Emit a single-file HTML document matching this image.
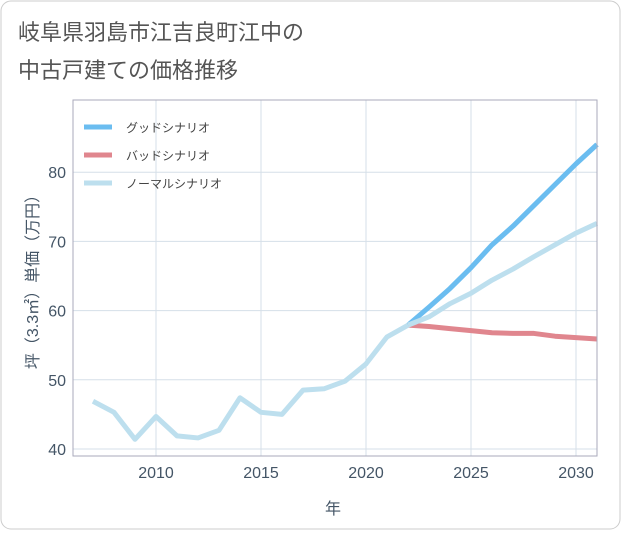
<!DOCTYPE html>
<html><head><meta charset="utf-8"><style>
body{margin:0;background:#fff;font-family:"Liberation Sans","Noto Sans CJK JP",sans-serif;}
</style></head><body>
<svg width="621" height="530" xmlns="http://www.w3.org/2000/svg" font-family="Liberation Sans, Noto Sans CJK JP, sans-serif">
<rect x="1" y="1" width="619" height="528" rx="10" fill="#fff" stroke="#ccc"/>
<text x="18" y="40" font-size="22" fill="#555">岐阜県羽島市江吉良町江中の</text>
<text x="18" y="78" font-size="22" fill="#555">中古戸建ての価格推移</text>
<g id="grid"></g>
<g id="lines"></g>
<rect x="73" y="100" width="524" height="356" fill="none" stroke="#aab" stroke-width="1"/>
<text transform="translate(38,278) rotate(-90)" text-anchor="middle" font-size="16" fill="#456">坪（3.3㎡）単価（万円）</text>
<text x="333" y="514" text-anchor="middle" font-size="16" fill="#456">年</text>
<g>
<line x1="84" y1="127" x2="112" y2="127" stroke="#6bbdf0" stroke-width="5"/>
<text x="126" y="132" font-size="12" fill="#444">グッドシナリオ</text>
<line x1="84" y1="155" x2="112" y2="155" stroke="#e0868e" stroke-width="5"/>
<text x="126" y="160" font-size="12" fill="#444">バッドシナリオ</text>
<line x1="84" y1="183" x2="112" y2="183" stroke="#bddfee" stroke-width="5"/>
<text x="126" y="188" font-size="12" fill="#444">ノーマルシナリオ</text>
</g>
</svg>
<script>
const histYears=[2007,2008,2009,2010,2011,2012,2013,2014,2015,2016,2017,2018,2019,2020,2021,2022];
const histValues=[46.9,45.3,41.4,44.7,41.9,41.6,42.7,47.4,45.3,45.0,48.5,48.7,49.8,52.3,56.2,57.9];
const futYears=[2022,2023,2024,2025,2026,2027,2028,2029,2030,2031];
const goodValues=[57.9,60.5,63.2,66.2,69.5,72.2,75.2,78.2,81.2,84.0];
const badValues=[57.9,57.7,57.4,57.1,56.8,56.7,56.7,56.3,56.1,55.9];
const normalValues=[57.9,59.1,61.0,62.5,64.4,66.0,67.8,69.5,71.2,72.6];
const xTicks=[2010,2015,2020,2025,2030];
const yTicks=[40,50,60,70,80];
const NS="http://www.w3.org/2000/svg";
const X=y=>156+(y-2010)*21;
const Y=v=>449-(v-40)*6.92;
const grid=document.getElementById('grid'),lines=document.getElementById('lines');
function mk(tag,attrs,parent){const e=document.createElementNS(NS,tag);for(const k in attrs)e.setAttribute(k,attrs[k]);parent.appendChild(e);return e;}
xTicks.forEach(t=>{const l=mk('line',{x1:X(t),x2:X(t),y1:100,y2:456,stroke:'#d5dfe8'},grid);


const tx=mk('text',{x:X(t),y:478,'text-anchor':'middle','font-size':16,fill:'#456'},grid);tx.textContent=t;

});
yTicks.forEach(t=>{const l=mk('line',{x1:73,x2:597,y1:Y(t),y2:Y(t),stroke:'#d5dfe8'},grid);


const tx=mk('text',{x:66,y:Y(t)+6,'text-anchor':'end','font-size':16,fill:'#456'},grid);tx.textContent=t;

});
function line(xs,vs,color,name){const p=mk('polyline',{points:xs.map((x,i)=>X(x)+','+Y(vs[i])).join(' '),fill:'none',stroke:color,'stroke-width':5,'stroke-linejoin':'round'},lines);

}
line(futYears,badValues,'#e0868e','bad-scenario-line');
line(futYears,goodValues,'#6bbdf0','good-scenario-line');
line(futYears,normalValues,'#bddfee','normal-scenario-line');
line(histYears,histValues,'#bddfee','history-line');
</script>
</body></html>
